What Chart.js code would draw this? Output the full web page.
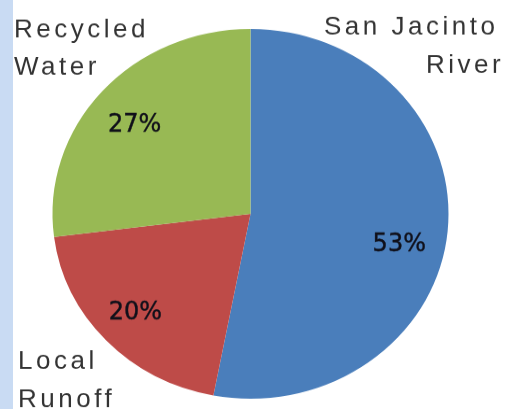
<!DOCTYPE html>
<html>
<head>
<meta charset="utf-8">
<script src="https://cdn.jsdelivr.net/npm/chart.js@4"></script>
<style>
  html, body { margin: 0; padding: 0; background: #ffffff; overflow: hidden; }
  #strip { position: absolute; left: 0; top: 0; width: 13px; height: 409px; background: #c9dbf3; }
  #wrap { position: absolute; left: 0; top: 0; width: 506px; height: 438px; transform: scale(1, 0.93379); transform-origin: 0 0; }
</style>
</head>
<body>
<div id="strip"></div>
<div id="wrap"><canvas id="c" width="506" height="438"></canvas></div>
<script>
// ---- data ----
const categories = ['San Jacinto River', 'Local Runoff', 'Recycled Water'];
const shares = [53, 20, 27];
const percentLabels = ['53%', '20%', '27%'];
const labelLines = [['San Jacinto', 'River'], ['Local', 'Runoff'], ['Recycled', 'Water']];

// ---- styling / layout ----
const SQUISH = 409 / 438;
const sliceColors = ['#4a7ebb', '#be4b48', '#98b954'];
// nudges (page pixels) of the percentage labels from the slice mid-angle point
const pctNudge = [[-3, 18], [-4, 1.5], [-1.5, 5.5]];
// left x and baseline y (in page pixels) of each label line
const labelPlaces = [
  [[324, 35], [426, 73]],
  [[18, 369], [18, 407]],
  [[14, 37], [14, 75]]
];

const labelPlugin = {
  id: 'labels',
  afterDatasetsDraw(chart) {
    const ctx = chart.ctx;
    const meta = chart.getDatasetMeta(0);
    // percentages inside slices
    meta.data.forEach((arc, i) => {
      const mid = (arc.startAngle + arc.endAngle) / 2;
      const r = arc.outerRadius * 0.77;
      const x = arc.x + Math.cos(mid) * r + pctNudge[i][0];
      const y = arc.y + Math.sin(mid) * r + pctNudge[i][1] / SQUISH;
      ctx.save();
      ctx.translate(x, y);
      ctx.scale(1, 1 / SQUISH);
      ctx.font = '24px "DejaVu Sans"';
      ctx.fillStyle = '#10101a';
      ctx.strokeStyle = '#10101a';
      ctx.lineWidth = 0.4;
      ctx.textAlign = 'center';
      ctx.textBaseline = 'middle';
      ctx.fillText(percentLabels[i], 0, 0);
      ctx.strokeText(percentLabels[i], 0, 0);
      ctx.restore();
    });
    // category names
    labelLines.forEach((lines, i) => {
      lines.forEach((txt, j) => {
        const [px, py] = labelPlaces[i][j];
        ctx.save();
        ctx.translate(px, py / SQUISH);
        ctx.scale(1, 1 / SQUISH);
        ctx.font = '26px "Liberation Sans"';
        ctx.letterSpacing = '3.5px';
        ctx.fillStyle = '#333333';
        ctx.textAlign = 'left';
        ctx.textBaseline = 'alphabetic';
        ctx.fillText(txt, 0, 0);
        ctx.restore();
      });
    });
  }
};

new Chart(document.getElementById('c'), {
  type: 'pie',
  data: {
    labels: categories,
    datasets: [{
      data: shares,
      backgroundColor: sliceColors,
      borderWidth: 0
    }]
  },
  options: {
    responsive: false,
    animation: false,
    devicePixelRatio: 1,
    layout: { padding: { left: 52.5, right: 57.5, top: 31, bottom: 11 } },
    plugins: {
      legend: { display: false },
      tooltip: { enabled: false }
    }
  },
  plugins: [labelPlugin]
});
</script>
</body>
</html>
